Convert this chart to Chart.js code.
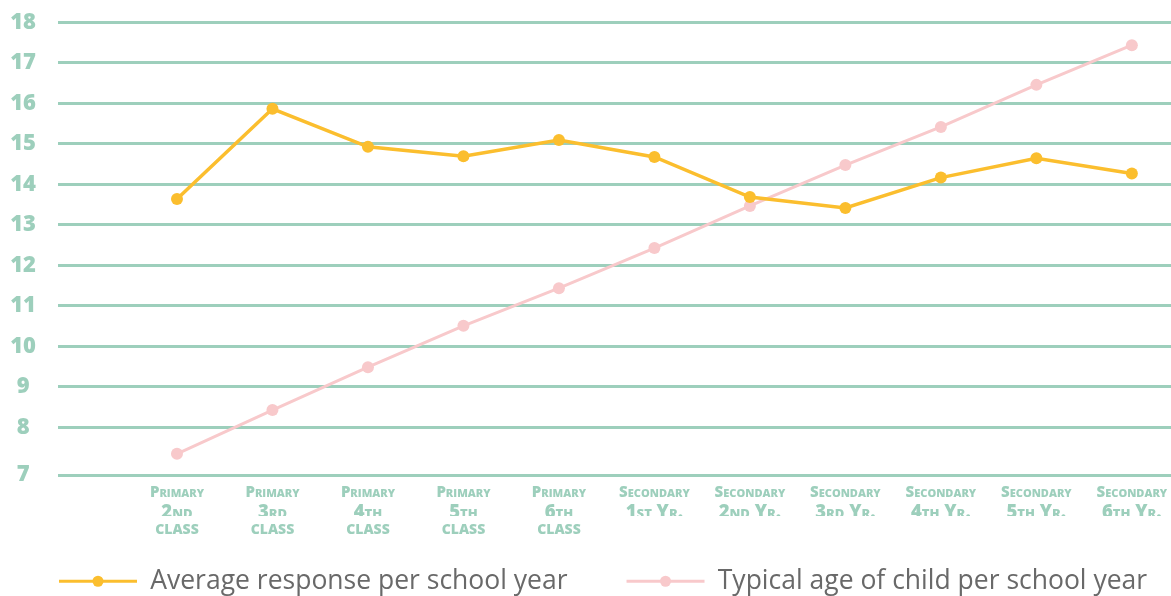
<!DOCTYPE html>
<html>
<head>
<meta charset="utf-8">
<script src="https://cdn.jsdelivr.net/npm/chart.js@4.4.1/dist/chart.umd.min.js"></script>
<style>
  html, body { margin: 0; padding: 0; background: #ffffff; overflow: hidden; }
  #wrap { position: relative; width: 1171px; height: 596px; }
  canvas { display: block; }
</style>
</head>
<body>
<div id="wrap"><canvas id="chart"></canvas></div>
<script>
// ---- Data ----
const levelLabels = ['Primary', 'Primary', 'Primary', 'Primary', 'Primary',
  'Secondary', 'Secondary', 'Secondary', 'Secondary', 'Secondary', 'Secondary'];
const ordinalLabels = ['2nd', '3rd', '4th', '5th', '6th',
  '1st Yr.', '2nd Yr.', '3rd Yr.', '4th Yr.', '5th Yr.', '6th Yr.'];
const unitLabels = ['class', 'class', 'class', 'class', 'class', '', '', '', '', '', ''];
const averageResponse = [13.64, 15.87, 14.93, 14.70, 15.10, 14.68, 13.69, 13.42, 14.17, 14.65, 14.27];
const typicalAge = [7.35, 8.43, 9.49, 10.51, 11.44, 12.43, 13.47, 14.48, 15.42, 16.46, 17.44];
const yTickValues = [7, 8, 9, 10, 11, 12, 13, 14, 15, 16, 17, 18];
const yTickLabels = ['7', '8', '9', '10', '11', '12', '13', '14', '15', '16', '17', '18'];
const seriesNames = ['Average response per school year', 'Typical age of child per school year'];

// ---- Style ----
const TEAL = '#9dcfbc';
const YELLOW = '#fbbe2e';
const PINK = '#f8c9cb';
const LEGEND_GAP = 46;
const LEGEND_LINE = 78;

const X_MIN = -1.246, X_MAX = 10.41;
const Y_MIN = 6.827, Y_MAX = 18;

function xTicks(scale) {
  scale.ticks = ordinalLabels.map((_, i) => ({ value: i }));
}

function xAxis(labels, size, padding, height, weight) {
  return {
    type: 'linear',
    position: 'bottom',
    weight: weight,
    min: X_MIN,
    max: X_MAX,
    grid: { display: false, drawTicks: false },
    border: { display: false },
    afterBuildTicks: xTicks,
    afterFit: (s) => { s.height = height; s.paddingLeft = 0; s.paddingRight = 0; },
    ticks: {
      autoSkip: false,
      maxRotation: 0,
      minRotation: 0,
      padding: padding,
      color: TEAL,
      font: { family: 'Open Sans', weight: 'small-caps 800', size: size, lineHeight: 1 },
      callback: (v, i) => labels[i]
    }
  };
}

const legendMarks = {
  id: 'legendMarks',
  afterDraw(chart) {
    const lg = chart.legend;
    if (!lg || !lg.legendHitBoxes) return;
    const ctx = chart.ctx;
    ctx.save();
    lg.legendHitBoxes.forEach((hb, i) => {
      const ds = chart.data.datasets[lg.legendItems[i].datasetIndex];
      const x0 = hb.left + LEGEND_GAP;
      const y = hb.top + hb.height / 2;
      ctx.strokeStyle = ds.borderColor;
      ctx.lineWidth = 3;
      ctx.beginPath();
      ctx.moveTo(x0, y);
      ctx.lineTo(x0 + LEGEND_LINE, y);
      ctx.stroke();
      ctx.fillStyle = ds.borderColor;
      ctx.beginPath();
      ctx.arc(x0 + LEGEND_LINE / 2, y, 5.5, 0, Math.PI * 2);
      ctx.fill();
    });
    ctx.restore();
  }
};

new Chart(document.getElementById('chart'), {
  type: 'line',
  data: {
    datasets: [
      {
        label: seriesNames[0],
        data: averageResponse.map((v, i) => ({ x: i, y: v })),
        borderColor: YELLOW,
        backgroundColor: YELLOW,
        borderWidth: 3.5,
        pointRadius: 6,
        pointHoverRadius: 6,
        pointBorderWidth: 0,
        tension: 0
      },
      {
        label: seriesNames[1],
        data: typicalAge.map((v, i) => ({ x: i, y: v })),
        borderColor: PINK,
        backgroundColor: PINK,
        borderWidth: 3,
        pointRadius: 6,
        pointHoverRadius: 6,
        pointBorderWidth: 0,
        tension: 0
      }
    ]
  },
  options: {
    responsive: true,
    maintainAspectRatio: false,
    animation: false,
    layout: { autoPadding: false, padding: { top: 22.5, bottom: -8.5, left: 0, right: 0 } },
    plugins: {
      tooltip: { enabled: false },
      legend: {
        position: 'bottom',
        align: 'start',
        labels: {
          boxWidth: LEGEND_GAP + LEGEND_LINE,
          boxHeight: 3,
          padding: 13,
          color: '#696969',
          font: { family: 'Open Sans', size: 26.5 },
          generateLabels(chart) {
            const items = Chart.defaults.plugins.legend.labels.generateLabels(chart);
            return items.map(it => Object.assign({}, it, {
              fillStyle: 'rgba(0,0,0,0)', strokeStyle: 'rgba(0,0,0,0)', lineWidth: 0
            }));
          }
        }
      }
    },
    scales: {
      x: xAxis(levelLabels, 15, 10, 24, 1),
      x2: xAxis(ordinalLabels, 18.5, 4.5, 17, 2),
      x3: xAxis(unitLabels, 20.5, 1.5, 39, 3),
      y: {
        min: Y_MIN,
        max: Y_MAX,
        afterBuildTicks: (scale) => {
          scale.ticks = yTickValues.map((v, i) => ({ value: i === 0 ? scale.min : v }));
        },
        afterFit: (s) => { s.width = 58; s.paddingTop = 0; s.paddingBottom = 0; },
        grid: { color: TEAL, lineWidth: 3, drawTicks: false },
        border: { display: false },
        ticks: {
          crossAlign: 'center',
          padding: 22,
          color: TEAL,
          font: { family: 'Open Sans', weight: '800', size: 22 },
          callback: (v, i) => yTickLabels[i]
        }
      }
    }
  },
  plugins: [legendMarks]
});
</script>
</body>
</html>
